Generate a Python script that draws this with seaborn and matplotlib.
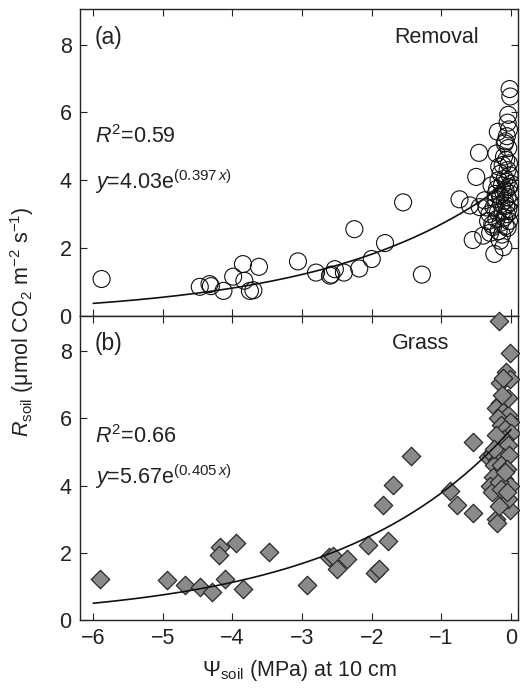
import numpy as np
import pandas as pd
import matplotlib
matplotlib.use("Agg")
import matplotlib.pyplot as plt
import seaborn as sns

# ---------------- data ----------------
removal_x = [-5.88, -4.47, -4.33, -4.31, -4.13, -3.99, -3.85, -3.83, -3.75, -3.70, -3.62,
             -3.06, -2.80, -2.60, -2.58, -2.53, -2.40, -2.25, -2.18, -2.00, -1.81, -1.55,
             -1.28, -0.74, -0.59, -0.55, -0.50, -0.46, -0.45, -0.40, -0.38, -0.31, -0.28,
             -0.26, -0.24, -0.21, -0.19, -0.16, -0.11, -0.09, -0.04, -0.02, -0.01,
             -0.05, -0.03, -0.06, -0.08, -0.04, -0.10, -0.07, -0.03, -0.12, -0.05, -0.15,
             -0.02, -0.09, -0.18, -0.06, -0.13, -0.03, -0.20, -0.08, -0.11, -0.01, -0.16,
             -0.05, -0.22, -0.09, -0.02, -0.14, -0.07, -0.25, -0.04, -0.12, -0.19, -0.06,
             -0.10, -0.21, -0.03, -0.15, -0.27, -0.08, -0.18, -0.13, -0.05, -0.22, -0.17,
             0.00, -0.01, -0.33, -0.35, -0.30]
removal_y = [1.09, 0.86, 0.94, 0.88, 0.74, 1.16, 1.53, 1.04, 0.74, 0.76, 1.45,
             1.61, 1.28, 1.19, 1.22, 1.38, 1.28, 2.56, 1.40, 1.68, 2.15, 3.35,
             1.22, 3.44, 3.26, 2.24, 4.10, 4.81, 3.21, 2.37, 3.41, 3.01, 3.85,
             2.62, 1.83, 4.79, 5.43, 2.22, 2.03, 5.09, 5.93, 6.69, 6.47,
             5.70, 5.50, 5.30, 5.15, 4.95, 4.70, 4.60, 4.50, 4.45, 4.30, 4.20,
             4.15, 4.05, 4.00, 3.95, 3.85, 3.80, 3.75, 3.70, 3.65, 3.60, 3.55,
             3.50, 3.45, 3.40, 3.35, 3.30, 3.25, 3.20, 3.15, 3.10, 3.05, 3.00,
             2.90, 2.85, 2.80, 2.75, 2.70, 2.65, 2.50, 2.40, 2.60, 3.60, 4.40,
             3.90, 3.10, 2.80, 3.20, 2.45]

grass_x = [-5.90, -4.94, -4.68, -4.47, -4.30, -4.18, -4.19, -4.11, -3.95, -3.85, -3.47,
           -2.93, -2.61, -2.56, -2.50, -2.36, -2.05, -1.96, -1.89, -1.84, -1.77, -1.69,
           -1.43, -0.87, -0.78, -0.55, -0.55,
           -0.18, -0.02, -0.07, -0.16, -0.01, -0.11, -0.09, -0.16, -0.21, -0.12, -0.04,
           -0.19, -0.02, -0.14, -0.08, 0.00, -0.16, -0.10, -0.05, -0.33, -0.28, -0.20,
           -0.12, -0.03, -0.25, -0.15, -0.06, -0.26, -0.10, -0.02, -0.30, -0.28, -0.18,
           -0.11, -0.02, -0.21, -0.20, -0.05, -0.15, -0.08, -0.22, -0.24, -0.04, -0.13,
           -0.18, -0.06]
grass_y = [1.21, 1.19, 1.04, 0.97, 0.84, 2.17, 1.94, 1.21, 2.29, 0.91, 2.02,
           1.04, 1.89, 1.92, 1.51, 1.81, 2.24, 1.39, 1.51, 3.41, 2.36, 4.03,
           4.87, 3.83, 3.43, 5.29, 3.18,
           8.90, 7.94, 7.39, 7.05, 7.16, 7.20, 6.55, 6.46, 6.30, 6.20, 6.10,
           6.00, 5.90, 5.80, 5.70, 5.56, 5.26, 5.40, 5.20, 4.86, 4.95, 4.75,
           4.85, 4.90, 4.60, 4.60, 4.50, 4.27, 4.20, 4.00, 4.00, 3.82, 4.10,
           3.52, 3.27, 3.00, 2.90, 3.60, 3.90, 4.40, 5.50, 5.10, 6.60, 6.70,
           3.40, 3.80]

# fitted models reported on the chart
removal_a, removal_b = 4.03, 0.397
grass_a, grass_b = 5.67, 0.405
x_ticks = [-6, -5, -4, -3, -2, -1, 0]
x_tick_labels = ["\u22126", "\u22125", "\u22124", "\u22123", "\u22122", "\u22121", "0"]
y_ticks = [0, 2, 4, 6, 8]

# ---------------- style ----------------
sns.set_theme(style="ticks")
plt.rcParams["font.family"] = ["Liberation Sans", "DejaVu Sans"]
plt.rcParams["mathtext.fontset"] = "custom"
plt.rcParams["mathtext.rm"] = "Liberation Sans"
plt.rcParams["mathtext.it"] = "Liberation Sans:italic"
plt.rcParams["mathtext.bf"] = "Liberation Sans:bold"
FS = 15.5

W, H = 520, 689
fig = plt.figure(figsize=(W / 100, H / 100), dpi=100)
left, right = 80 / W, 518 / W
ax_a = fig.add_axes([left, 1 - 316 / H, right - left, (316 - 9) / H])
ax_b = fig.add_axes([left, 1 - 620 / H, right - left, (620 - 316) / H])

xfit = np.linspace(-6, 0, 200)
panels = [
    (ax_a, removal_x, removal_y, removal_a, removal_b, "(a)", "Removal", "0.59",
     dict(marker="o", s=150, facecolor="none", edgecolor="#111111", linewidth=0.8),
     -0.46, 8.22, 5.28, 3.95, True),
    (ax_b, grass_x, grass_y, grass_a, grass_b, "(b)", "Grass", "0.66",
     dict(marker="D", s=88, color="#8a8a8a", edgecolor="#2a2a2a", linewidth=0.9),
     -0.89, 8.22, 5.45, 4.26, False),
]

for ax, xs, ys, a, b, tag, name, r2, mk, name_x, tag_y, r2_y, eq_y, clip in panels:
    df = pd.DataFrame({"x": xs, "y": ys})
    sns.scatterplot(data=df, x="x", y="y", ax=ax, legend=False, zorder=3,
                    clip_on=clip, **mk)
    fit = pd.DataFrame({"x": xfit, "y": a * np.exp(b * xfit)})
    sns.lineplot(data=fit, x="x", y="y", ax=ax, color="#111111", linewidth=1.2,
                 zorder=4)
    ax.set_xlim(-6.19, 0.1)
    ax.set_ylim(0, 9.05)
    ax.set_xticks(x_ticks)
    ax.set_yticks(y_ticks)
    ax.set_xlabel("")
    ax.set_ylabel("")
    ax.tick_params(direction="in", top=True, right=True, length=5, width=0.8,
                   labelsize=FS, colors="#222222", pad=6)
    for sp in ax.spines.values():
        sp.set_linewidth(1.0)
        sp.set_color("#222222")
    ax.text(-5.98, tag_y, tag, fontsize=FS + 1, va="center", ha="left", color="#222222")
    ax.text(name_x, tag_y, name, fontsize=FS, va="center", ha="right", color="#222222")
    ax.text(-5.98, r2_y, r"$\mathit{R}^{2}$=" + r2, fontsize=FS, va="center",
            ha="left", color="#222222")
    ax.text(-5.98, eq_y,
            r"$\mathit{y}$=" + f"{a:.2f}" + r"e$^{(" + f"{b:.3f}" + r"\,\mathit{x})}$",
            fontsize=FS, va="center", ha="left", color="#222222")

ax_a.tick_params(labelbottom=False)
ax_b.set_xticklabels(x_tick_labels)
ax_b.set_xlabel(r"$\Psi_{\mathrm{soil}}$ (MPa) at 10 cm", fontsize=FS, color="#222222",
                labelpad=6)
fig.text(22 / W, 1 - 322 / H,
         r"$\mathit{R}_{\mathrm{soil}}$ ($\mathrm{\mu}$mol CO$_2$ m$^{-2}$ s$^{-1}$)",
         rotation=90, va="center", ha="center", fontsize=FS, color="#222222")

fig.savefig("out.png", dpi=100)
